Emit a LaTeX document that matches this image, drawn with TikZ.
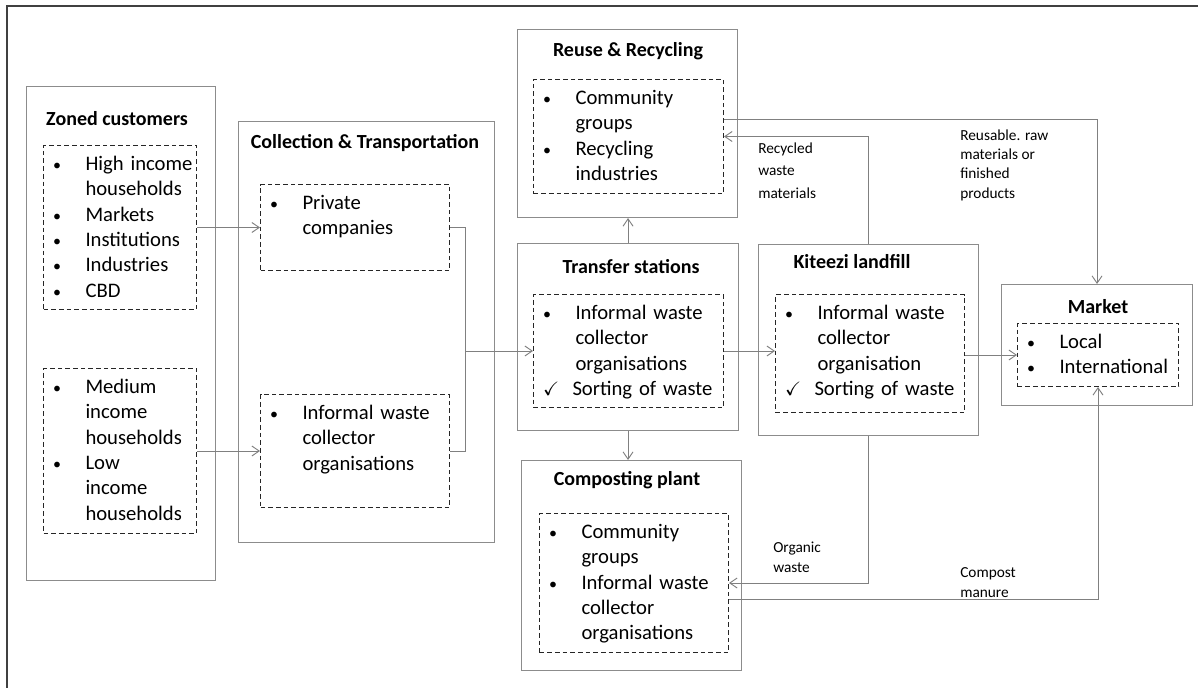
\documentclass[tikz,border=0pt]{standalone}
\usepackage{fontspec}
\setmainfont{Carlito}
\usepackage{amssymb}
\usetikzlibrary{arrows.meta}

\newcommand\bit{\makebox[29.25pt][l]{\hspace{5pt}{\fontsize{12}{12}\selectfont\textbullet}}}
\newcommand\bsk{\hspace*{29.25pt}}
\newcommand\chk{\makebox[27pt][l]{\hspace{5pt}{\fontsize{14.5}{14}\selectfont$\checkmark$}}}

\tikzset{
  sbox/.style={draw=black!45, line width=0.8pt, anchor=north west, inner sep=0pt},
  dlist/.style 2 args={draw=black!85, dash pattern=on 3.5pt off 2.25pt, line width=0.75pt,
    anchor=north west, inner xsep=2.25pt, inner ysep=0pt, text width=#1,
    text height=18.75pt, text depth=#2, align=left, font=\fontsize{15.5}{19}\selectfont},
  ttl/.style={anchor=base, inner sep=0pt, font=\fontsize{15}{18}\selectfont\bfseries},
  lbl/.style={anchor=base west, align=left, inner sep=0pt, font=\fontsize{11.5}{14.5}\selectfont},
  flow/.style={draw=black!50, line width=0.7pt, -{Straight Barb[length=5.5pt,width=7.5pt]}},
  lnk/.style={draw=black!50, line width=0.7pt}
}

\begin{document}
\begin{tikzpicture}[x=0.75pt,y=-0.75pt]
\useasboundingbox (0,0) rectangle (1198,688);
\draw[line width=2.2pt, black!75] (7,688) -- (7,6) -- (1198,6);

\node[sbox, minimum width=141.75pt, minimum height=370.5pt] (zcbox) at (26,86) {};
\node[sbox, minimum width=192pt, minimum height=315.75pt] (ctbox) at (238,121) {};
\node[sbox, minimum width=165pt, minimum height=141pt] (rrbox) at (517,29) {};
\node[sbox, minimum width=165.75pt, minimum height=140.25pt] (tsbox) at (517,243) {};
\node[sbox, minimum width=165pt, minimum height=143.25pt] (klbox) at (758,244) {};
\node[sbox, minimum width=143.25pt, minimum height=90.75pt] (mkbox) at (1001,284) {};
\node[sbox, minimum width=165pt, minimum height=157.5pt] (cpbox) at (521,460) {};

\node[ttl] (zct) at (117,126) {Zoned customers};
\node[ttl] (ctt) at (365,148) {Collection \& Transportation};
\node[ttl] (rrt) at (628,57) {Reuse \& Recycling};
\node[ttl] (tst) at (631,273) {Transfer stations};
\node[ttl] (klt) at (852,268) {Kiteezi landfill};
\node[ttl] (mkt) at (1098,313) {Market};
\node[ttl] (cpt) at (627,485) {Composting plant};

\node[dlist={110.25pt}{104.25pt}] (zc1) at (43,145) {\bit High income\\\bsk households\\\bit Markets\\\bit Institutions\\\bit Industries\\\bit CBD};
\node[dlist={110.25pt}{105pt}] (zc2) at (43,368) {\bit Medium\\\bsk income\\\bsk households\\\bit Low\\\bsk income\\\bsk households};
\node[dlist={137.25pt}{45.75pt}] (priv) at (260,184) {\bit Private\\\bsk companies};
\node[dlist={137.25pt}{66pt}] (infc) at (260,394) {\bit Informal waste\\\bsk collector\\\bsk organisations};
\node[dlist={138pt}{66.75pt}] (rr) at (533,79) {\bit Community\\\bsk groups\\\bit Recycling\\\bsk industries};
\node[dlist={138pt}{66pt}] (ts) at (533,294) {\bit Informal waste\\\bsk collector\\\bsk organisations\\\chk Sorting of waste};
\node[dlist={137.25pt}{69.75pt}] (kl) at (775,294) {\bit Informal waste\\\bsk collector\\\bsk organisation\\\chk Sorting of waste};
\node[dlist={116.25pt}{28.5pt}] (mk) at (1017,323) {\bit Local\\\bit International};
\node[dlist={137.25pt}{85.5pt}] (cp) at (539,513) {\bit Community\\\bsk groups\\\bit Informal waste\\\bsk collector\\\bsk organisations};

\node[lbl, font=\fontsize{11.5}{16.6}\selectfont] (rcl) at (758,198) {Recycled\\waste\\materials};
\node[lbl] (rsl) at (960,198) {Reusable. raw\\materials or\\finished\\products};
\node[lbl] (orl) at (773,572) {Organic\\waste};
\node[lbl] (cml) at (960,597) {Compost\\manure};

\coordinate (mrg) at (ts.west -| 465,0);
\draw[flow] (zc1.east) -- (priv.west);
\draw[flow] (zc2.east) -- (infc.west);
\draw[lnk] (priv.east) -| (mrg);
\draw[lnk] (infc.east) -| (mrg);
\draw[flow] (mrg) -- (ts.west);
\draw[flow] (ts.east) -- (ts.east -| kl.west);
\draw[flow] (mk.west -| kl.east) -- (mk.west);
\draw[flow] (tsbox.north) -- (tsbox.north |- rrbox.south);
\draw[flow] (tsbox.south) -- (tsbox.south |- cpbox.north);
\draw[flow] (klbox.north) |- (rr.east);
\draw[flow] ([yshift=12.75pt]rr.east) -| (mkbox.north);
\draw[flow] (klbox.south) |- (cp.east);
\draw[flow] ([yshift=-12pt]cp.east) -| (mk.south);

\end{tikzpicture}
\end{document}
